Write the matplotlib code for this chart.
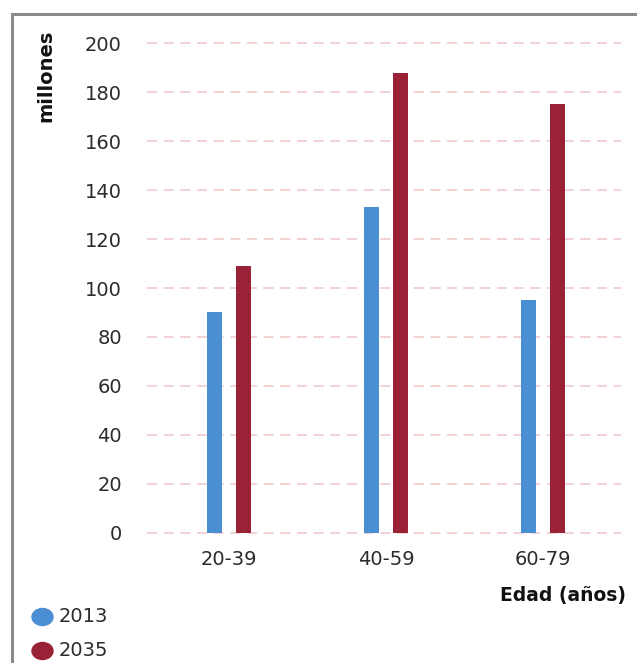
import matplotlib
matplotlib.use("Agg")
import matplotlib.pyplot as plt
from matplotlib.patches import Rectangle, Ellipse
import numpy as np

# Population by age group (millions)
categories = ["20-39", "40-59", "60-79"]
series_names = ["2013", "2035"]
values_2013 = [90, 133, 95]
values_2035 = [109, 188, 175]
yticks = [0, 20, 40, 60, 80, 100, 120, 140, 160, 180, 200]

colors = {"2013": "#4a8ed3", "2035": "#9a2236"}
grid_color = "#f0c9c9"
text_color = "#2b2b2b"
font = "DejaVu Sans"
tick_size = 14

W, H = 637, 663
fig = plt.figure(figsize=(W / 100, H / 100), dpi=100)
fig.patch.set_facecolor("white")

def fx(px):
    return px / W

def fy(py):
    return 1 - py / H

# axes placement in pixels
left_px, right_px, top_px, bottom_px = 147, 621, 30, 540
ax = fig.add_axes([fx(left_px), fy(bottom_px), fx(right_px - left_px),
                   (bottom_px - top_px) / H])

y0_px, y200_px = 532.7, 43.3
scale = (y0_px - y200_px) / 200
ax.set_ylim(-(bottom_px - y0_px) / scale, 200 + (y200_px - top_px) / scale)
ax.set_xlim(-0.524, 2.495)

x = np.arange(len(categories))
width = 0.097
offset = 0.092
ax.bar(x - offset, values_2013, width, color=colors["2013"], zorder=3)
ax.bar(x + offset, values_2035, width, color=colors["2035"], zorder=3)

for t in yticks:
    ax.axhline(t, color=grid_color, lw=1.2, dashes=(6, 4), zorder=1)

for s in ax.spines.values():
    s.set_visible(False)
ax.set_yticks(yticks)
ax.set_yticklabels([str(t) for t in yticks], fontsize=tick_size, color=text_color,
                   family=font)
ax.set_xticks(x)
ax.set_xticklabels(categories, fontsize=tick_size, color=text_color, family=font)
ax.tick_params(axis="y", length=0, pad=18)
ax.tick_params(axis="x", length=0, pad=7)

fig.text(fx(46), fy(76), "millones", rotation=90, ha="center", va="center",
         fontsize=14, fontweight="bold", family=font, color="#111111")
fig.text(fx(626), fy(595), "Edad (años)", ha="right", va="center",
         fontsize=13.5, fontweight="bold", family=font, color="#111111")

# legend
for name, ypx in zip(series_names, [617, 651]):
    fig.patches.append(Ellipse((fx(42.5), fy(ypx)), fx(21), 17 / H,
                               transform=fig.transFigure, color=colors[name]))
    fig.text(fx(59), fy(ypx), name, ha="left", va="center", fontsize=tick_size,
             family=font, color=text_color)

# outer frame (top and left edges visible)
fig.patches.append(Rectangle((fx(11.5), fy(H + 20)), fx(W + 20), (H + 20 - 14) / H,
                             transform=fig.transFigure, fill=False,
                             edgecolor="#8a8a8a", linewidth=2.2))

fig.savefig("out.png", dpi=100)
